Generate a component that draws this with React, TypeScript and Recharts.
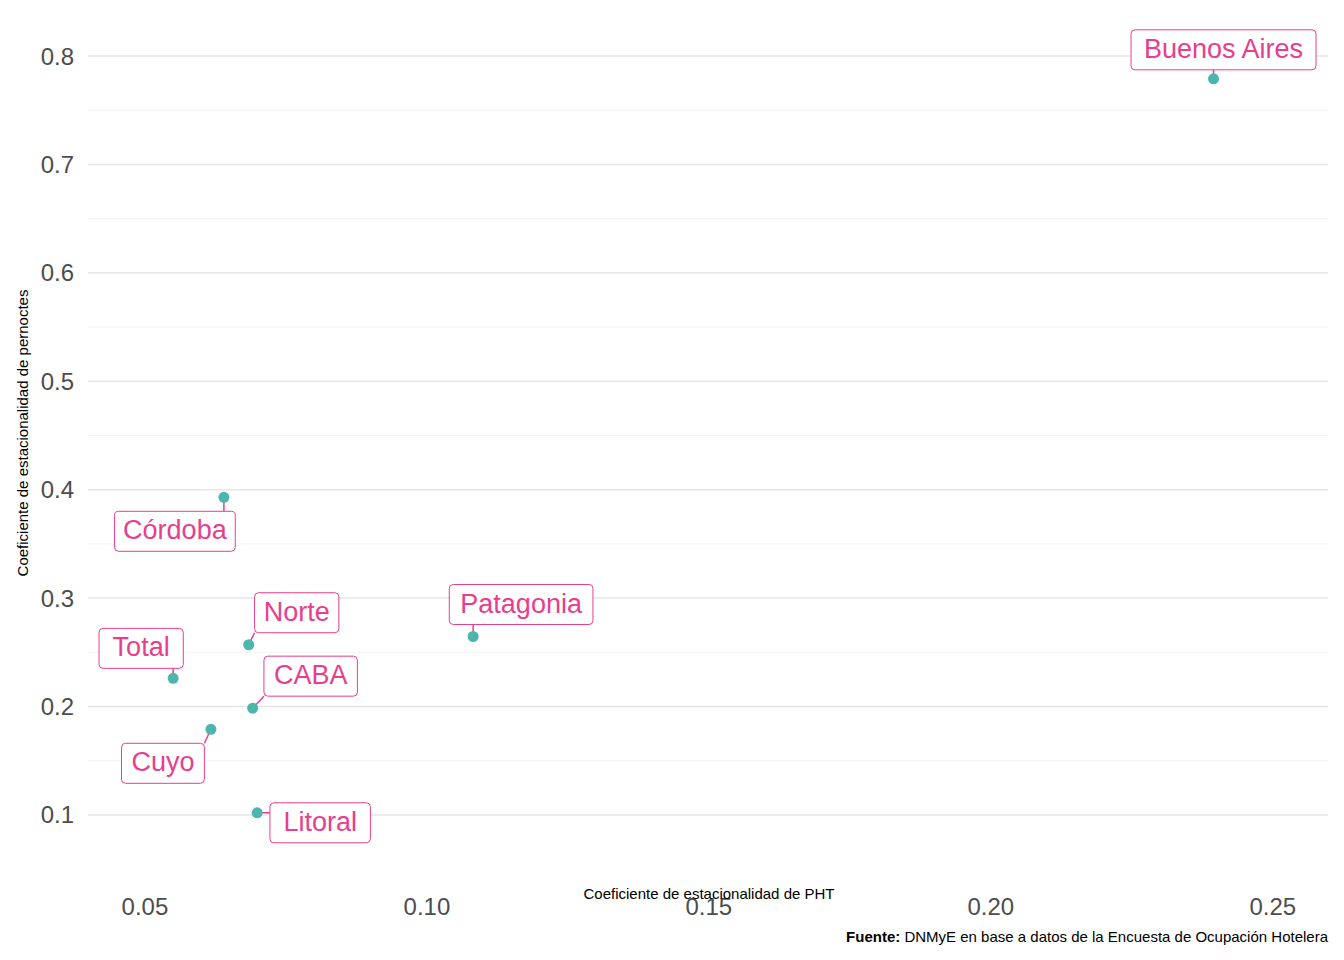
import React from 'react';
import { ScatterChart, Scatter, XAxis, YAxis, ReferenceLine } from 'recharts';

const regions = ['Buenos Aires', 'Córdoba', 'Norte', 'Patagonia', 'Total', 'CABA', 'Cuyo', 'Litoral'];
const phtCoef = [0.2395, 0.064, 0.0684, 0.1082, 0.055, 0.0691, 0.0617, 0.0699];
const pernoctesCoef = [0.779, 0.393, 0.257, 0.2646, 0.226, 0.1985, 0.179, 0.102];
const xTicks = [0.05, 0.1, 0.15, 0.2, 0.25];
const yTicks = [0.1, 0.2, 0.3, 0.4, 0.5, 0.6, 0.7, 0.8];
const yMinor = [0.15, 0.25, 0.35, 0.45, 0.55, 0.65, 0.75];

// label box offsets (px) from each point, mimicking ggrepel placement
const labelOffsets: Record<string, [number, number]> = {
  'Buenos Aires': [10, -29],
  'Córdoba': [-49, 34],
  'Norte': [48, -32],
  'Patagonia': [48, -32],
  'Total': [-32, -30],
  'CABA': [58, -32],
  'Cuyo': [-48, 34],
  'Litoral': [63, 10],
};

const data = regions.map((name, i) => ({ name, x: phtCoef[i], y: pernoctesCoef[i] }));

const PINK = '#E83E8C';
const TEAL = '#4DB6AC';
const FONT = '"Liberation Sans", Arial, sans-serif';

// rough text width for the label box
const textWidth = (s: string, fs: number) =>
  s.split('').reduce((w, c) => {
    if ('iltrfj '.includes(c)) return w + fs * 0.3;
    if (c >= 'A' && c <= 'Z') return w + fs * 0.68;
    return w + fs * 0.55;
  }, 0);

const PointWithLabel = (props: any) => {
  const { cx, cy, payload } = props;
  const [dx, dy] = labelOffsets[payload.name];
  const fs = 27;
  const w = textWidth(payload.name, fs) + 20;
  const h = 40;
  const bx = cx + dx - w / 2;
  const by = cy + dy - h / 2;
  const ex = Math.min(Math.max(cx, bx), bx + w);
  const ey = Math.min(Math.max(cy, by), by + h);
  return (
    <g>
      <line x1={cx} y1={cy} x2={ex} y2={ey} stroke={PINK} strokeWidth={1.5} />
      <circle cx={cx} cy={cy} r={5.5} fill={TEAL} />
      <rect x={bx} y={by} width={w} height={h} rx={4} fill="#fff" stroke={PINK} strokeWidth={1} />
      <text x={cx + dx} y={cy + dy + 1} textAnchor="middle" dominantBaseline="middle" fontSize={fs} fill={PINK} fontFamily={FONT}>
        {payload.name}
      </text>
    </g>
  );
};

export default function App() {
  return (
    <div style={{ position: 'relative', width: 1344, height: 960, margin: -8, background: '#fff', fontFamily: FONT }}>
      <ScatterChart width={1344} height={960} margin={{ top: 4, right: 16, bottom: 0, left: 0 }}>
        <XAxis
          type="number"
          dataKey="x"
          domain={[0.0399, 0.2598]}
          ticks={xTicks}
          tickFormatter={(v: number) => v.toFixed(2)}
          axisLine={false}
          tickLine={false}
          tickSize={0}
          tickMargin={18}
          height={80}
          tick={{ fill: '#4d4d4d', fontSize: 24, fontFamily: FONT }}
        />
        <YAxis
          type="number"
          dataKey="y"
          domain={[0.04, 0.848]}
          ticks={yTicks}
          tickFormatter={(v: number) => v.toFixed(1)}
          axisLine={false}
          tickLine={false}
          tickSize={0}
          tickMargin={14}
          width={88}
          tick={{ fill: '#4d4d4d', fontSize: 24, fontFamily: FONT }}
        />
        {yMinor.map((v) => (
          <ReferenceLine key={'m' + v} y={v} stroke="#f2f2f2" strokeWidth={1} />
        ))}
        {yTicks.map((v) => (
          <ReferenceLine key={'M' + v} y={v} stroke="#e6e6e6" strokeWidth={1.5} />
        ))}
        <Scatter data={data} isAnimationActive={false} shape={PointWithLabel} />
      </ScatterChart>
      <div style={{ position: 'absolute', left: 0, width: 1418, top: 885, textAlign: 'center', fontSize: 15, color: '#000' }}>
        Coeficiente de estacionalidad de PHT
      </div>
      <div
        style={{
          position: 'absolute',
          left: 22,
          top: 433,
          transform: 'translate(-50%, -50%) rotate(-90deg)',
          whiteSpace: 'nowrap',
          fontSize: 15,
          color: '#000',
        }}
      >
        Coeficiente de estacionalidad de pernoctes
      </div>
      <div style={{ position: 'absolute', right: 16, top: 928, fontSize: 15, color: '#000' }}>
        <b>Fuente:</b> DNMyE en base a datos de la Encuesta de Ocupación Hotelera
      </div>
    </div>
  );
}
